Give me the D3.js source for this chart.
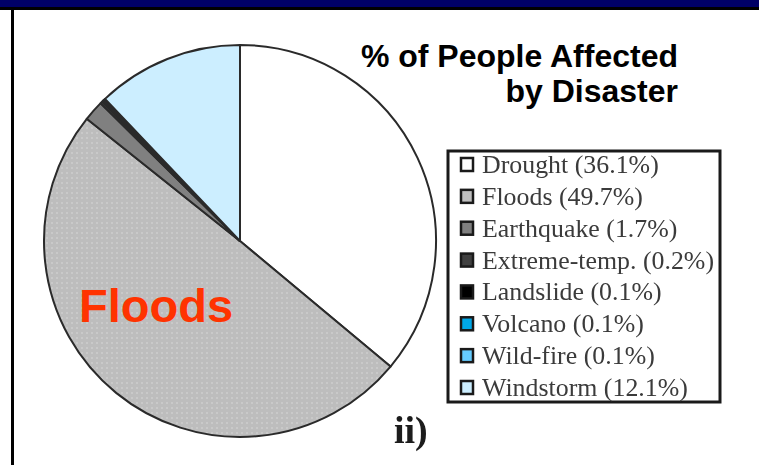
<!DOCTYPE html>
<html>
<head>
<meta charset="utf-8">
<script src="https://cdn.jsdelivr.net/npm/d3@7"></script>
<style>
  html, body { margin: 0; padding: 0; background: #fff; }
  svg { display: block; }
</style>
</head>
<body>
<svg id="chart" width="759" height="465"></svg>
<script>
// Share of people affected, by disaster type
const categories = ["Drought", "Floods", "Earthquake", "Extreme-temp.", "Landslide", "Volcano", "Wild-fire", "Windstorm"];
const shares = [36.1, 49.7, 1.7, 0.2, 0.1, 0.1, 0.1, 12.1];
const sliceColors = ["#ffffff", "#bfbfbf", "#808080", "#404040", "#000000", "#00a8e8", "#66ccff", "#cceeff"];
const titleLines = ["% of People Affected", "by Disaster"];

const W = 759, H = 465;
const svg = d3.select("#chart");

// frame: navy band, black rules
svg.append("rect").attr("x", 0).attr("y", 0).attr("width", W).attr("height", 7).attr("fill", "#000066");
svg.append("rect").attr("x", 0).attr("y", 7).attr("width", W).attr("height", 3).attr("fill", "#000");
svg.append("rect").attr("x", 11).attr("y", 7).attr("width", 3).attr("height", H - 7).attr("fill", "#000");

const defs = svg.append("defs");
const pat = defs.append("pattern").attr("id", "dots").attr("patternUnits", "userSpaceOnUse")
  .attr("width", 5).attr("height", 5);
pat.append("rect").attr("width", 5).attr("height", 5).attr("fill", "#bdbdbd");
pat.append("rect").attr("x", 1).attr("y", 1).attr("width", 2).attr("height", 2).attr("fill", "#c9c9c9");

defs.append("filter").attr("id", "soft").append("feGaussianBlur").attr("stdDeviation", 0.6);

const data = categories.map((c, i) => ({ name: c, value: shares[i], color: sliceColors[i] }));

// pie
const cx = 240, cy = 241, R = 196;
const pie = d3.pie().sort(null).value(d => d.value).startAngle(0).endAngle(2 * Math.PI);
const arc = d3.arc().innerRadius(0).outerRadius(R);

const g = svg.append("g").attr("transform", `translate(${cx},${cy})`);
g.selectAll("path.slice")
  .data(pie(data))
  .join("path")
  .attr("class", "slice")
  .attr("d", arc)
  .attr("fill", d => d.data.name === "Floods" ? "url(#dots)" : d.data.color)
  .attr("stroke", "#2a2a2a")
  .attr("stroke-width", 2)
  .attr("stroke-linejoin", "round");

// big label on the floods slice
svg.append("text")
  .attr("x", 79).attr("y", 322)
  .attr("font-family", "Liberation Sans, Arial, sans-serif")
  .attr("font-weight", "bold")
  .attr("font-size", 47)
  .attr("fill", "#ff3300")
  .text("Floods");

// title
svg.append("g").selectAll("text")
  .data(titleLines)
  .join("text")
  .attr("x", 678)
  .attr("y", (d, i) => 67 + i * 35)
  .attr("text-anchor", "end")
  .attr("font-family", "Liberation Sans, Arial, sans-serif")
  .attr("font-weight", "bold")
  .attr("font-size", 32)
  .attr("fill", "#000")
  .text(d => d);

// legend
const lg = svg.append("g");
lg.append("rect")
  .attr("x", 448).attr("y", 151).attr("width", 272).attr("height", 251)
  .attr("fill", "#fff").attr("stroke", "#1a1a1a").attr("stroke-width", 3);

const rowY = d3.scaleLinear().domain([0, categories.length - 1]).range([165, 388]);
const rows = lg.selectAll("g.row").data(data).join("g")
  .attr("class", "row")
  .attr("transform", (d, i) => `translate(0,${rowY(i)})`);
rows.append("rect")
  .attr("x", 461).attr("y", -7).attr("width", 12).attr("height", 13)
  .attr("fill", d => d.color)
  .attr("stroke", "#1a1a1a").attr("stroke-width", 2.5);
rows.append("text")
  .attr("transform", "translate(482,8) scale(1.035,1)")
  .attr("font-family", "Liberation Serif, Times New Roman, serif")
  .attr("font-size", 25)
  .attr("fill", "#3a3a3a")
  .attr("filter", "url(#soft)")
  .text(d => `${d.name} (${d.value}%)`);

// panel tag
svg.append("text")
  .attr("x", 394).attr("y", 443)
  .attr("font-family", "Liberation Serif, Times New Roman, serif")
  .attr("font-weight", "bold")
  .attr("font-size", 38)
  .attr("fill", "#1a1a1a")
  .attr("filter", "url(#soft)")
  .text("ii)");
</script>
</body>
</html>
